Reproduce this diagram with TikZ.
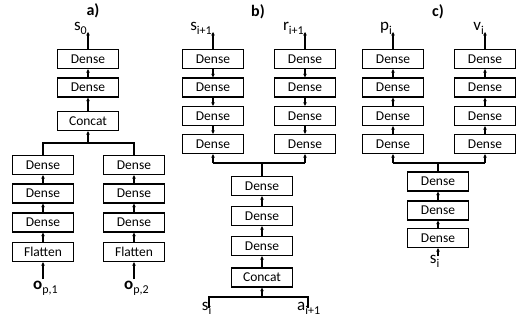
\documentclass[tikz,border=0pt]{standalone}
\usepackage{fontspec}
\setmainfont{Carlito}
\usetikzlibrary{arrows.meta}
\newcommand\lsub[1]{\raisebox{-0.25em}{\fontsize{12}{12}\selectfont #1}}
\begin{document}
\begin{tikzpicture}[x=1pt,y=-1pt,
  box/.style={draw, line width=1.4pt, minimum width=61pt, minimum height=19pt, inner sep=0pt, font=\fontsize{13.5}{13.5}\selectfont},
  arr/.style={-{Stealth[length=3.5pt,width=3.5pt]}, line width=1.2pt},
  ln/.style={line width=1.2pt},
  lbl/.style={inner sep=0pt, font=\fontsize{17}{17}\selectfont},
  ttl/.style={inner sep=0pt, font=\fontsize{16}{16}\selectfont\bfseries}]
\useasboundingbox (0,0) rectangle (519,324);

% ---------------- panel a
\node[ttl] (ta) at (93,11) {a)};
\node[box] (a1) at (88,59) {Dense};
\node[box] (a2) at (88,87.5) {Dense};
\node[box] (a3) at (88,121) {Concat};
\node[box] (al1) at (43,165) {Dense};
\node[box] (al2) at (43,193.5) {Dense};
\node[box] (al3) at (43,222.5) {Dense};
\node[box] (al4) at (43,252) {Flatten};
\node[box] (ar1) at (134,165) {Dense};
\node[box] (ar2) at (134,193.5) {Dense};
\node[box] (ar3) at (134,222.5) {Dense};
\node[box] (ar4) at (134,252) {Flatten};
\coordinate (a0t) at (88,32);
\node[lbl, anchor=south east] (s0) at (87,35) {s\lsub{0}};
\draw[arr] (a1.north) -- (a0t);
\draw[arr] (a2.north) -- (a1.south);
\draw[arr] (a3.north) -- (a2.south);
\coordinate (ja) at (88,143);
\draw[ln] (al1.north) |- (ja) -| (ar1.north);
\draw[arr] (ja) -- (a3.south);
\draw[arr] (al2.north) -- (al1.south);
\draw[arr] (al3.north) -- (al2.south);
\draw[arr] (al4.north) -- (al3.south);
\draw[arr] (ar2.north) -- (ar1.south);
\draw[arr] (ar3.north) -- (ar2.south);
\draw[arr] (ar4.north) -- (ar3.south);
\coordinate (ob1) at (43,279);
\coordinate (ob2) at (134,279);
\draw[arr] (ob1) -- (al4.south);
\draw[arr] (ob2) -- (ar4.south);
\node[lbl, anchor=north] (o1) at (45.5,281) {\textbf{o}\lsub{p,1}};
\node[lbl, anchor=north] (o2) at (136.5,281) {\textbf{o}\lsub{p,2}};

% ---------------- panel b
\node[ttl] (tb) at (258,12) {b)};
\node[box] (bl1) at (213,59) {Dense};
\node[box] (bl2) at (213,87.5) {Dense};
\node[box] (bl3) at (213,116) {Dense};
\node[box] (bl4) at (213,144) {Dense};
\node[box] (br1) at (305,59) {Dense};
\node[box] (br2) at (305,87.5) {Dense};
\node[box] (br3) at (305,116) {Dense};
\node[box] (br4) at (305,144) {Dense};
\coordinate (blt) at (213,32);
\coordinate (brt) at (305,32);
\draw[arr] (bl1.north) -- (blt);
\draw[arr] (br1.north) -- (brt);
\node[lbl, anchor=south east] (sb) at (212,35) {s\lsub{i+1}};
\node[lbl, anchor=south east] (rb) at (304,35) {r\lsub{i+1}};
\draw[arr] (bl1.south) -- (bl2.north);
\draw[arr] (bl2.south) -- (bl3.north);
\draw[arr] (bl3.south) -- (bl4.north);
\draw[arr] (br1.south) -- (br2.north);
\draw[arr] (br2.south) -- (br3.north);
\draw[arr] (br3.south) -- (br4.north);
\node[box] (b1) at (262,186) {Dense};
\node[box] (b2) at (262,216) {Dense};
\node[box] (b3) at (262,246) {Dense};
\node[box] (b4) at (262,277.5) {Concat};
\coordinate (jb) at (262,163);
\coordinate (jbl) at (213,163);
\coordinate (jbr) at (305,163);
\draw[ln] (b1.north) -- (jb);
\draw[ln] (jbl) -- (jbr);
\draw[arr] (jbl) -- (bl4.south);
\draw[arr] (jbr) -- (br4.south);
\draw[arr] (b2.north) -- (b1.south);
\draw[arr] (b3.north) -- (b2.south);
\draw[arr] (b4.north) -- (b3.south);
\coordinate (jb2) at (262,297);
\coordinate (sib) at (209,308);
\coordinate (aib) at (308,308);
\draw[ln] (sib) |- (jb2) -| (aib);
\draw[arr] (jb2) -- (b4.south);
\node[lbl, anchor=north east] (si) at (211.5,302) {s\lsub{i}};
\node[lbl, anchor=north west] (ai) at (297,302) {a\lsub{i+1}};

% ---------------- panel c
\node[ttl] (tc) at (438,12) {c)};
\node[box] (cl1) at (393,59) {Dense};
\node[box] (cl2) at (393,87.5) {Dense};
\node[box] (cl3) at (393,116) {Dense};
\node[box] (cl4) at (393,144) {Dense};
\node[box] (cr1) at (485,59) {Dense};
\node[box] (cr2) at (485,87.5) {Dense};
\node[box] (cr3) at (485,116) {Dense};
\node[box] (cr4) at (485,144) {Dense};
\coordinate (clt) at (393,32);
\coordinate (crt) at (485,32);
\draw[arr] (cl1.north) -- (clt);
\draw[arr] (cr1.north) -- (crt);
\node[lbl, anchor=south east] (pc) at (392,35) {p\lsub{i}};
\node[lbl, anchor=south east] (vc) at (484,35) {v\lsub{i}};
\draw[arr] (cl2.north) -- (cl1.south);
\draw[arr] (cl3.north) -- (cl2.south);
\draw[arr] (cl4.north) -- (cl3.south);
\draw[arr] (cr2.north) -- (cr1.south);
\draw[arr] (cr3.north) -- (cr2.south);
\draw[arr] (cr4.north) -- (cr3.south);
\node[box] (c1) at (438,181.5) {Dense};
\node[box] (c2) at (438,210.5) {Dense};
\node[box] (c3) at (438,238) {Dense};
\coordinate (jc) at (438,163);
\coordinate (jcl) at (393,163);
\coordinate (jcr) at (485,163);
\draw[ln] (c1.north) -- (jc);
\draw[ln] (jcl) -- (jcr);
\draw[arr] (jcl) -- (cl4.south);
\draw[arr] (jcr) -- (cr4.south);
\draw[arr] (c2.north) -- (c1.south);
\draw[arr] (c3.north) -- (c2.south);
\coordinate (sic) at (438,256);
\draw[arr] (sic) -- (c3.south);
\node[lbl, anchor=north east] (sc) at (439.5,255) {s\lsub{i}};
\end{tikzpicture}
\end{document}
